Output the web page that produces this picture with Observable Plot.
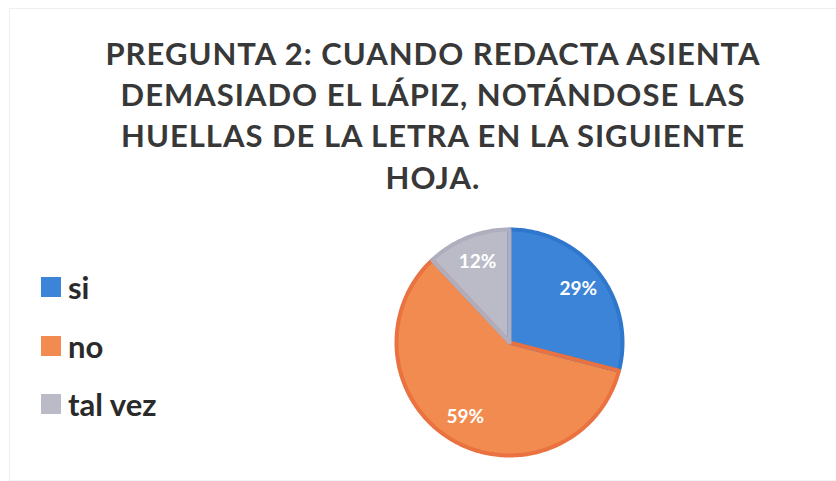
<!DOCTYPE html>
<html>
<head>
<meta charset="utf-8">
<script src="https://cdn.jsdelivr.net/npm/d3@7"></script>
<script src="https://cdn.jsdelivr.net/npm/@observablehq/plot@0.6"></script>
<style>
  html, body { margin: 0; padding: 0; background: #fff; }
  #chart { position: relative; width: 836px; height: 481px; overflow: hidden; font-family: Lato, "Open Sans", sans-serif; }
  #frame { position: absolute; left: 9px; top: 8px; width: 840px; height: 471px; border-top: 1px solid #efefef; border-left: 1px solid #efefef; border-bottom: 1px solid #f2f2f2; }
  #title { position: absolute; left: 30px; width: 806px; top: 33px; text-align: center; font-weight: 700; font-size: 31px; line-height: 41.2px; color: #383838; letter-spacing: 1.0px; }
  #legend { position: absolute; left: 41px; top: 258px; }
  .item { display: flex; align-items: center; height: 58.5px; font-weight: 700; font-size: 31px; color: #2a2a2a; }
  .sw { width: 20px; height: 20px; margin-right: 7px; }
  #pie { position: absolute; left: 386px; top: 219px; }
</style>
</head>
<body>
<div id="chart">
  <div id="frame"></div>
  <div id="title"></div>
  <div id="legend"></div>
  <div id="pie"></div>
</div>
<script>
const titleLines = ["PREGUNTA 2: CUANDO REDACTA ASIENTA", "DEMASIADO EL LÁPIZ, NOTÁNDOSE LAS", "HUELLAS DE LA LETRA EN LA SIGUIENTE", "HOJA."];
const categories = ["si", "no", "tal vez"];
const values = [29, 59, 12];
const labels = ["29%", "59%", "12%"];
const colors = ["#3b84d8", "#f28b4f", "#bbbbc8"];
const strokes = ["#2f76cd", "#ea7240", "#aeaebe"];

document.getElementById("title").innerHTML = titleLines.join("<br>");

const legend = document.getElementById("legend");
categories.forEach((c, i) => {
  const d = document.createElement("div");
  d.className = "item";
  d.innerHTML = `<span class="sw" style="background:${colors[i]}"></span><span>${c}</span>`;
  legend.appendChild(d);
});

const arcs = d3.pie().sort(null).value(d => d)(values);
const polys = [];
arcs.forEach((a, i) => {
  polys.push({cat: categories[i], x: 0, y: 0});
  const n = Math.max(2, Math.ceil((a.endAngle - a.startAngle) / (Math.PI / 180)));
  for (let k = 0; k <= n; k++) {
    const t = a.startAngle + (a.endAngle - a.startAngle) * k / n;
    polys.push({cat: categories[i], x: Math.sin(t), y: Math.cos(t)});
  }
});
const labelData = arcs.map((a, i) => {
  const m = (a.startAngle + a.endAngle) / 2;
  return {cat: categories[i], text: labels[i], x: 0.77 * Math.sin(m), y: 0.77 * Math.cos(m)};
});

const size = 246, m = 10;
const plot = Plot.plot({
  width: size, height: size,
  margin: m,
  x: {domain: [-1, 1], axis: null},
  y: {domain: [-1, 1], axis: null},
  color: {domain: categories, range: colors},
  marks: [
    Plot.line(polys, {x: "x", y: "y", z: "cat", fill: "cat", stroke: "cat", curve: "linear-closed", strokeWidth: 0}),
    ...categories.map((c, i) => Plot.line(polys.filter(p => p.cat === c), {x: "x", y: "y", fill: "none", stroke: strokes[i], strokeWidth: 4, curve: "linear-closed", strokeLinejoin: "round"})),
    Plot.text(labelData, {x: "x", y: "y", text: "text", fill: "white", fontSize: 19, fontWeight: 700, fontFamily: "Lato, sans-serif"})
  ]
});
document.getElementById("pie").appendChild(plot);
</script>
</body>
</html>
